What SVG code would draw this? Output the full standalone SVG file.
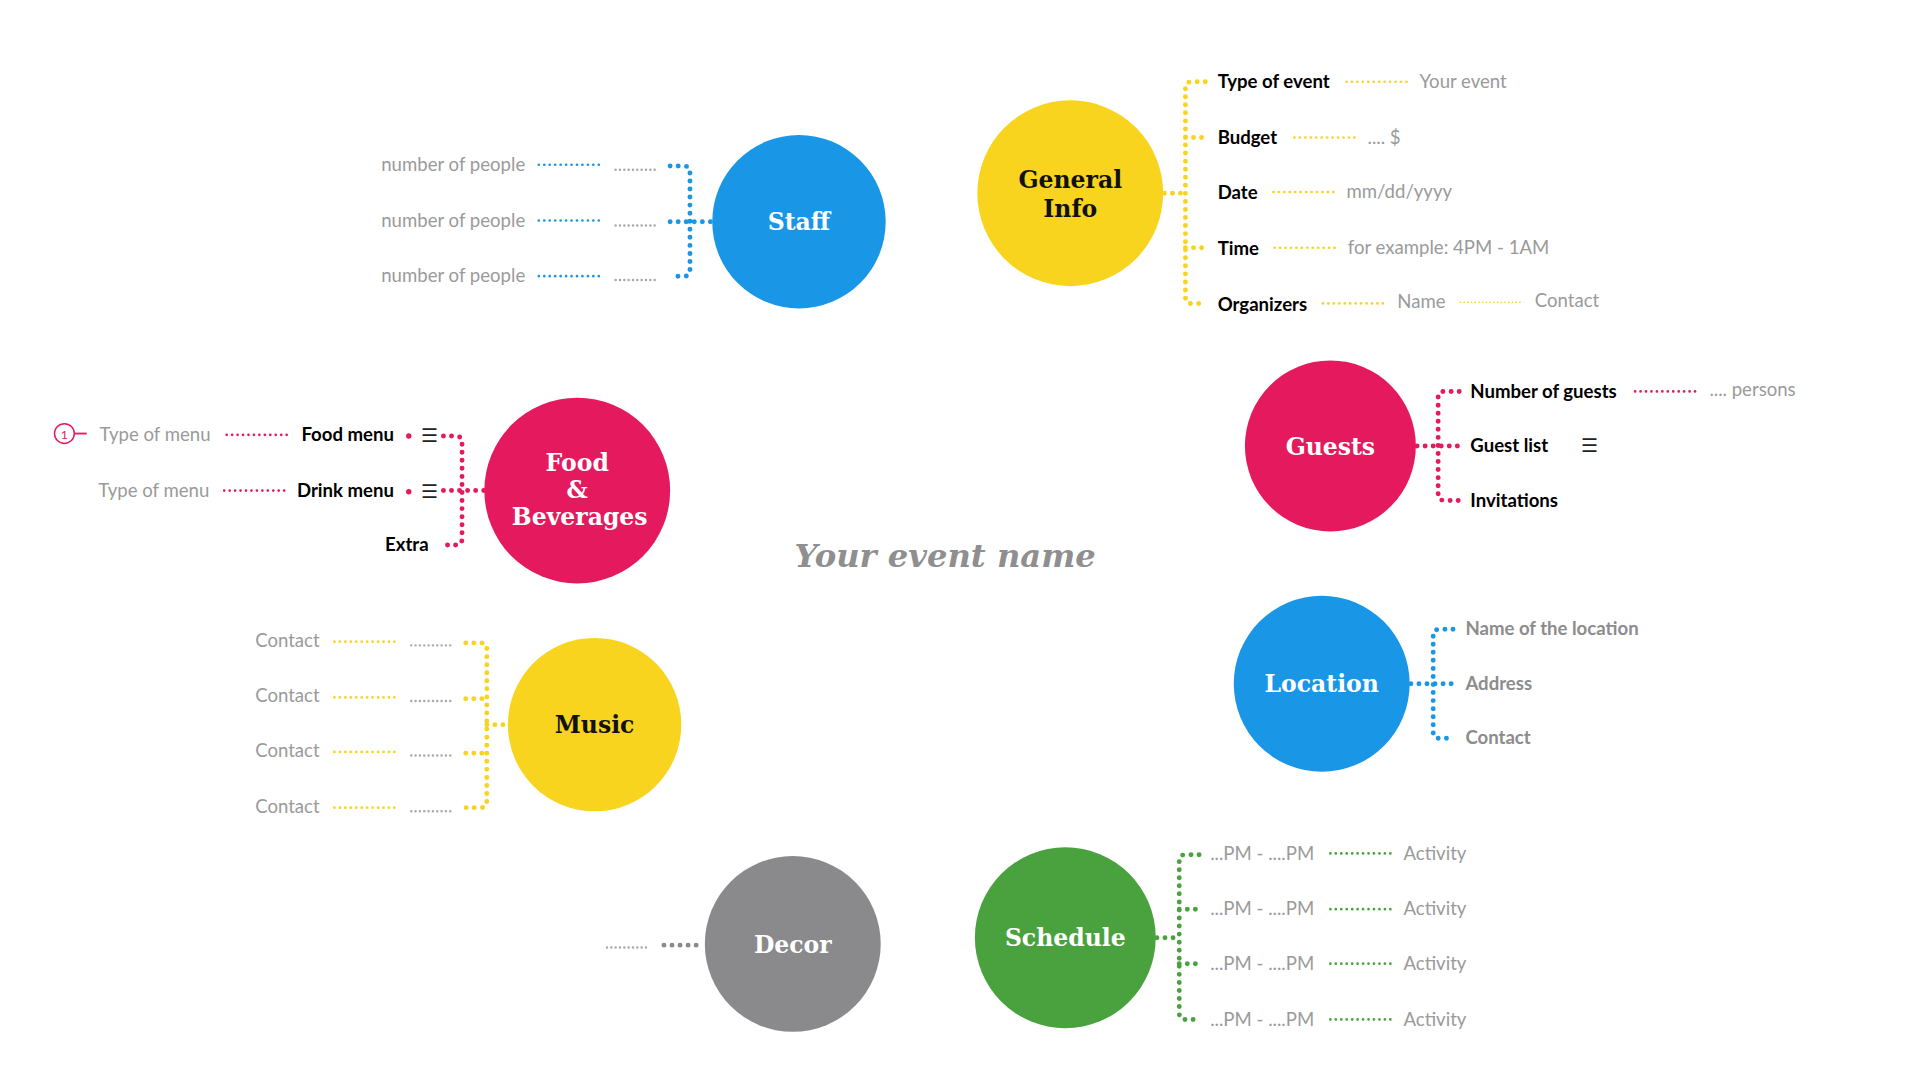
<svg xmlns="http://www.w3.org/2000/svg" width="1920" height="1080" viewBox="0 0 1920 1080">
<style>
.t{font-family:Lato,"Open Sans",sans-serif;font-size:15px}
.g{fill:#9a9a9a}
.b{fill:#000;font-weight:bold}
.lg{fill:#8c8c8c;font-weight:bold}
.h{font-family:"DejaVu Serif",serif;font-weight:bold;font-size:19px;text-anchor:middle}
.d{fill:none;stroke-width:2.2;stroke-dasharray:0 4.4;stroke-linecap:round}
.k{fill:none;stroke-width:4;stroke-dasharray:0 6.5;stroke-linecap:round}
.gr{fill:none;stroke:#a8a8a8;stroke-width:2;stroke-dasharray:0 3.5;stroke-linecap:round}
.bl{stroke:#1a96e6}.ye{stroke:#f9d41e}.pk{stroke:#e5195e}.gn{stroke:#4aa23f}.gy{stroke:#8a8a8c}
</style>
<rect width="1920" height="1080" fill="#fff"/>
<g transform="scale(1.23871)">
<text x="763" y="458" text-anchor="middle" style="font-family:'DejaVu Serif',serif;font-style:italic;font-weight:bold;font-size:26px;fill:#8f8f8f">Your event name</text>
<g id="connectors">
<!-- Staff -->
<path class="k bl" d="M541 134H552Q557 134 557 139V218Q557 223 552 223H541M541 179H575"/>
<path class="d bl" d="M435 133H486M435 178H486M435 223H486"/>
<path class="gr" d="M497 137H531M497 182H531M497 226H531"/>
<!-- General -->
<path class="k ye" d="M940 156H957M973 66H962Q957 66 957 71V240Q957 245 962 245H973M957 111H973M957 200H973"/>
<path class="d ye" d="M1087 66H1137M1045 111H1095M1028 155H1077M1029 200H1078M1068 245H1118"/>
<path class="d ye" style="stroke-width:1.4;stroke-dasharray:0 3" d="M1179 244H1229"/>
<!-- Guests -->
<path class="k pk" d="M1144 360H1178M1178 316H1166Q1161 316 1161 321V399Q1161 404 1166 404H1178"/>
<path class="d pk" d="M1320 316H1370"/>
<!-- Location -->
<path class="k bl" d="M1139 552H1173M1173 508H1162Q1157 508 1157 513V591Q1157 596 1162 596H1173"/>
<!-- Schedule -->
<path class="k gn" d="M934 757H952M968 690H957Q952 690 952 695V818Q952 823 957 823H968M952 734H968M952 778H968"/>
<path class="d gn" d="M1074 689H1124M1074 734H1124M1074 778H1124M1074 823H1124"/>
<!-- Decor -->
<path class="k gy" d="M536 763H568"/>
<path class="gr" d="M490 765H524"/>
<!-- Music -->
<path class="k ye" d="M393 585H410M376 519H388Q393 519 393 524V647Q393 652 388 652H376M376 564H393M376 608H393"/>
<path class="d ye" d="M270 518H320M270 563H320M270 607H320M270 652H320"/>
<path class="gr" d="M332 521H366M332 566H366M332 610H366M332 655H366"/>
<!-- Food -->
<path class="k pk" d="M358 352H368Q373 352 373 357V435Q373 440 368 440H358M358 396H391"/>
<path class="d pk" d="M183 351H232M181 396H231"/>
<circle cx="330" cy="352" r="2.2" fill="#e5195e"/><circle cx="330" cy="397" r="2.2" fill="#e5195e"/>
<path d="M60 350H70" stroke="#e5195e" stroke-width="1.5"/>
</g>
<g id="staff"><circle cx="645" cy="179" r="70" fill="#1a96e6"/><text class="h" x="645" y="186" fill="#fff">Staff</text>
<text class="t g" x="424" y="138" text-anchor="end">number of people</text><text class="t g" x="424" y="183" text-anchor="end">number of people</text><text class="t g" x="424" y="228" text-anchor="end">number of people</text></g>
<g id="general-info"><circle cx="864" cy="156" r="75" fill="#f9d41e"/><text class="h" x="864" y="152" fill="#111">General</text><text class="h" x="864" y="175" fill="#111">Info</text>
<text class="t b" x="983" y="71">Type of event</text><text class="t g" x="1146" y="71">Your event</text>
<text class="t b" x="983" y="116">Budget</text><text class="t g" x="1104" y="116">.... $</text>
<text class="t b" x="983" y="161">Date</text><text class="t g" x="1087" y="160">mm/dd/yyyy</text>
<text class="t b" x="983" y="206">Time</text><text class="t g" x="1088" y="205">for example: 4PM - 1AM</text>
<text class="t b" x="983" y="251">Organizers</text><text class="t g" x="1128" y="249">Name</text><text class="t g" x="1239" y="248">Contact</text></g>
<g id="guests"><circle cx="1074" cy="360" r="69" fill="#e5195e"/><text class="h" x="1074" y="367" fill="#fff">Guests</text>
<text class="t b" x="1187" y="321">Number of guests</text><text class="t g" x="1380" y="320">.... persons</text>
<text class="t b" x="1187" y="365">Guest list</text><text class="t" x="1276" y="365" fill="#222">☰</text>
<text class="t b" x="1187" y="409">Invitations</text></g>
<g id="location"><circle cx="1067" cy="552" r="71" fill="#1a96e6"/><text class="h" x="1067" y="559" fill="#fff">Location</text>
<text class="t lg" x="1183" y="513">Name of the location</text><text class="t lg" x="1183" y="557">Address</text><text class="t lg" x="1183" y="601">Contact</text></g>
<g id="schedule"><circle cx="860" cy="757" r="73" fill="#4aa23f"/><text class="h" x="860" y="764" fill="#fff">Schedule</text>
<text class="t g" x="977" y="694">...PM - ....PM</text><text class="t g" x="1133" y="694">Activity</text>
<text class="t g" x="977" y="739">...PM - ....PM</text><text class="t g" x="1133" y="739">Activity</text>
<text class="t g" x="977" y="783">...PM - ....PM</text><text class="t g" x="1133" y="783">Activity</text>
<text class="t g" x="977" y="828">...PM - ....PM</text><text class="t g" x="1133" y="828">Activity</text></g>
<g id="decor"><circle cx="640" cy="762" r="71" fill="#8a8a8c"/><text class="h" x="640" y="769" fill="#fff">Decor</text></g>
<g id="music"><circle cx="480" cy="585" r="70" fill="#f9d41e"/><text class="h" x="480" y="592" fill="#111">Music</text>
<text class="t g" x="258" y="522" text-anchor="end">Contact</text><text class="t g" x="258" y="567" text-anchor="end">Contact</text><text class="t g" x="258" y="611" text-anchor="end">Contact</text><text class="t g" x="258" y="656" text-anchor="end">Contact</text></g>
<g id="food-beverages"><circle cx="466" cy="396" r="75" fill="#e5195e"/><text class="h" x="466" y="380" fill="#fff">Food</text><text class="h" x="466" y="402" fill="#fff">&amp;</text><text class="h" x="468" y="424" fill="#fff">Beverages</text>
<circle cx="52" cy="350" r="8" fill="none" stroke="#e5195e" stroke-width="1.2"/><text x="52" y="354" text-anchor="middle" style="font-family:Lato,sans-serif;font-size:10px;fill:#e5195e">1</text>
<text class="t g" x="170" y="356" text-anchor="end">Type of menu</text><text class="t b" x="318" y="356" text-anchor="end">Food menu</text><text class="t" x="340" y="357" fill="#222">☰</text>
<text class="t g" x="169" y="401" text-anchor="end">Type of menu</text><text class="t b" x="318" y="401" text-anchor="end">Drink menu</text><text class="t" x="340" y="402" fill="#222">☰</text>
<text class="t b" x="346" y="445" text-anchor="end">Extra</text></g>
</g>
</svg>
